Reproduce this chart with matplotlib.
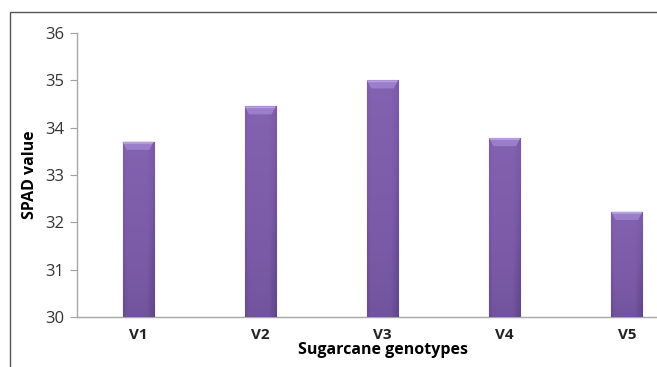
import matplotlib
matplotlib.use("Agg")
import numpy as np
import matplotlib.pyplot as plt
from matplotlib.patches import Rectangle, Polygon
from matplotlib.colors import LinearSegmentedColormap

genotypes = ["V1", "V2", "V3", "V4", "V5"]
spad = [33.7, 34.45, 35.0, 33.78, 32.22]
y_ticks = [30, 31, 32, 33, 34, 35, 36]

plt.rcParams["font.family"] = ["Open Sans", "DejaVu Sans"]

fig = plt.figure(figsize=(6.57, 3.67), dpi=100)
# axes runs past the right edge, as in the cropped original
ax = fig.add_axes([77 / 657, 50 / 367, 611 / 657, 284 / 367])

x = np.arange(len(genotypes))
width = 0.255
bars = ax.bar(x, [v - 30 for v in spad], bottom=30, width=width,
              color="#7b5ba7", edgecolor="#5a4180", linewidth=0.8, zorder=3)

# purple shading: lighter top-left, darker bottom and right edge
cmap = LinearSegmentedColormap.from_list("purp", ["#5f4689", "#7a5aa6", "#8565b3"])
gy = np.linspace(0, 1, 64)[:, None]
gx = np.linspace(0, 1, 32)[None, :]
shade = 0.35 + 0.55 * gy - 0.35 * np.clip((gx - 0.75) / 0.25, 0, 1)
shade = shade - 0.2 * np.clip((0.12 - gx) / 0.12, 0, 1)
for b, v in zip(bars, spad):
    x0 = b.get_x()
    im = ax.imshow(shade, cmap=cmap, vmin=0, vmax=1, origin="lower",
                   extent=[x0, x0 + width, 30, v], aspect="auto", zorder=3.5)
    im.set_clip_path(b)
    # bevel on the top
    h = 0.17
    inset = 0.035
    ax.add_patch(Polygon([[x0, v], [x0 + width, v],
                          [x0 + width - inset, v - h], [x0 + inset, v - h]],
                         closed=True, facecolor="#9a7dcb", edgecolor="none",
                         zorder=4))
    ax.add_patch(Polygon([[x0, v], [x0 + width, v], [x0 + width - 0.01, v - 0.04],
                          [x0 + 0.01, v - 0.04]],
                         closed=True, facecolor="#b7a0dc", edgecolor="none",
                         zorder=4.1))

ax.set_xlim(-0.5, len(genotypes) - 0.5)
ax.set_ylim(30, 36)
ax.set_yticks(y_ticks)
ax.set_yticklabels([str(t) for t in y_ticks], fontsize=12, color="#333333")
ax.set_xticks(x)
ax.set_xticklabels(genotypes, fontsize=11, fontweight="bold", color="#222222")
ax.tick_params(axis="x", length=0, pad=8)
ax.tick_params(axis="y", length=5, color="#a0a0a0", pad=4)

for side in ["top", "right"]:
    ax.spines[side].set_visible(False)
for side in ["left", "bottom"]:
    ax.spines[side].set_color("#a8a8a8")
    ax.spines[side].set_linewidth(1.0)

ax.set_ylabel("SPAD value", fontsize=11.5, fontweight="bold", labelpad=5)
ax.set_xlabel("Sugarcane genotypes", fontsize=11.5, fontweight="bold", labelpad=0)

# outer chart frame (cropped on right and bottom)
fig.patches.append(Rectangle((10 / 657, -0.1), 1.2, 1.1 - 12 / 367,
                             transform=fig.transFigure, fill=False,
                             edgecolor="#555555", linewidth=1.0))

fig.savefig("out.png", dpi=100)
